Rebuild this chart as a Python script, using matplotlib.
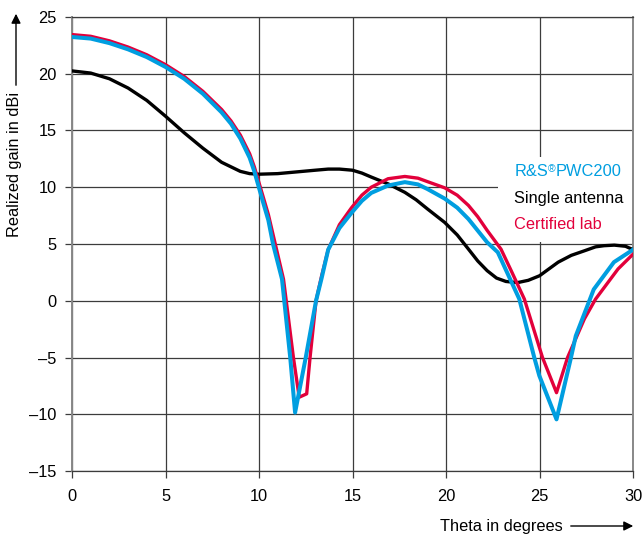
import matplotlib
matplotlib.use("Agg")
import matplotlib.pyplot as plt
from matplotlib.patches import Rectangle

## Data
theta_single = [0, 1, 2, 3, 4, 5, 6, 7, 8, 9, 9.5, 10, 11, 12, 13, 13.7, 14.3, 15, 15.5, 16, 16.9,
                17.8, 18.4, 19, 19.93, 20.6, 21.2, 21.7, 22.2, 22.7, 23.2, 23.83, 24.4, 25, 25.5,
                26, 26.7, 27.4, 28, 28.45, 29, 29.6, 30]
gain_single = [20.25, 20.06, 19.56, 18.74, 17.65, 16.26, 14.8, 13.44, 12.2, 11.4, 11.2, 11.15, 11.2,
               11.35, 11.5, 11.6, 11.6, 11.5, 11.25, 10.9, 10.3, 9.55, 8.9, 8.1, 6.9, 5.8, 4.55,
               3.5, 2.65, 2.0, 1.7, 1.6, 1.8, 2.2, 2.8, 3.4, 4.0, 4.4, 4.75, 4.85, 4.9, 4.8, 4.5]

theta_lab = [0, 1, 2, 3, 4, 5, 6, 7, 8, 8.5, 9, 9.5, 9.75, 10, 10.25, 10.5, 10.87, 11.31, 11.84,
             12.15, 12.55, 12.73, 13.05, 13.35, 13.7, 14.3, 14.95, 15.5, 16.0, 16.9, 17.8, 18.5,
             19.0, 19.93, 20.6, 21.2, 21.7, 22.2, 22.94, 23.5, 24.19, 25.16, 25.91, 26.5, 27.4,
             28.0, 29.2, 30]
gain_lab = [23.45, 23.3, 22.9, 22.35, 21.67, 20.8, 19.76, 18.45, 16.85, 15.85, 14.6, 12.95, 11.8,
            10.4, 9.0, 7.6, 5.0, 1.9, -5.0, -8.5, -8.2, -5.0, 0.0, 2.2, 4.5, 6.7, 8.2, 9.3, 10.0,
            10.75, 10.95, 10.8, 10.5, 9.95, 9.3, 8.4, 7.4, 6.2, 4.55, 2.6, 0.15, -5.0, -8.1, -5.0,
            -1.6, 0.15, 2.8, 4.1]

theta_pwc = [0, 1, 2, 3, 4, 5, 6, 7, 8, 8.5, 9, 9.5, 9.75, 10, 10.25, 10.5, 10.75, 11.23, 11.67,
             11.93, 12.5, 13.05, 13.35, 13.7, 14.3, 14.95, 15.5, 16.0, 16.9, 17.8, 18.5, 19.0,
             19.93, 20.6, 21.2, 22.2, 22.77, 23.92, 24.72, 24.99, 25.91, 26.67, 26.94, 27.9,
             28.98, 30]
gain_pwc = [23.24, 23.1, 22.7, 22.15, 21.47, 20.6, 19.56, 18.24, 16.6, 15.6, 14.3, 12.6, 11.4, 9.95,
            8.5, 7.1, 5.0, 1.9, -5.0, -9.85, -5.0, 0.0, 2.0, 4.5, 6.4, 7.75, 8.8, 9.5, 10.15,
            10.45, 10.25, 9.85, 9.0, 8.2, 7.2, 5.15, 4.27, 0.15, -5.0, -6.6, -10.45, -5.1, -3.1,
            1.0, 3.4, 4.5]

x_ticks = [0, 5, 10, 15, 20, 25, 30]
y_ticks = [-15, -10, -5, 0, 5, 10, 15, 20, 25]

BLUE = '#009ee0'
RED = '#e2003b'
GRID = '#3c3c3c'
FS = 11.8

plt.rcParams['font.family'] = ['Liberation Sans', 'DejaVu Sans']
plt.rcParams['axes.unicode_minus'] = False

fig = plt.figure(figsize=(6.42, 5.4), dpi=100)
ax = fig.add_axes([72/642, 1 - 471/540, (633-72)/642, (471-17)/540])

ax.plot(theta_single, gain_single, color='black', lw=2.4, zorder=3, solid_joinstyle='round')
ax.plot(theta_lab, gain_lab, color=RED, lw=2.4, zorder=4, solid_joinstyle='round')
ax.plot(theta_pwc, gain_pwc, color=BLUE, lw=2.9, zorder=5, solid_joinstyle='round')

ax.set_xlim(0, 30)
ax.set_ylim(-15, 25)
ax.set_xticks(x_ticks)
ax.set_yticks(y_ticks)
ax.set_yticklabels([str(v).replace('-', '\u2013') for v in y_ticks])
ax.set_axisbelow(True)
ax.grid(True, color=GRID, lw=0.9)
ax.tick_params(axis='both', length=5, width=0.9, color=GRID, labelsize=FS)
ax.tick_params(axis='y', pad=6)
ax.tick_params(axis='x', pad=8)
for s in ['top', 'bottom']:
    ax.spines[s].set_color(GRID)
    ax.spines[s].set_linewidth(0.9)
for s in ['left', 'right']:
    ax.spines[s].set_color('#888888')
    ax.spines[s].set_linewidth(1.4)

# white legend box covering the grid
ax.add_patch(Rectangle((22.8, 5.2), 7.2, 7.5, facecolor='white', edgecolor='none', zorder=1))
t1 = ax.text(23.65, 11.35, 'R&S', color=BLUE, fontsize=FS, va='center', zorder=6)
t2 = ax.annotate('\u00ae', xy=(1, 1.02), xycoords=t1, color=BLUE, fontsize=7.5,
                 ha='left', va='top', zorder=6)
ax.annotate('PWC200', xy=(1, 0), xycoords=(t2, t1), color=BLUE, fontsize=FS,
            ha='left', va='bottom', zorder=6)
ax.text(23.65, 9.0, 'Single antenna', color='black', fontsize=FS, va='center', zorder=6)
ax.text(23.65, 6.7, 'Certified lab', color=RED, fontsize=FS, va='center', zorder=6)

# axis labels with arrows
fig.text(440/642, 1 - 526/540, 'Theta in degrees', fontsize=FS, ha='left', va='center')
ax.annotate('', xy=(636, 540-526), xytext=(568, 540-526), xycoords='figure pixels',
            textcoords='figure pixels',
            arrowprops=dict(arrowstyle='-|>', color='black', lw=1, mutation_scale=14))
fig.text(15/642, 1 - 164/540, 'Realized gain in dBi', fontsize=FS, rotation=90,
         ha='center', va='center')
ax.annotate('', xy=(16, 540-11), xytext=(16, 540-88), xycoords='figure pixels',
            textcoords='figure pixels',
            arrowprops=dict(arrowstyle='-|>', color='black', lw=1, mutation_scale=14))

fig.savefig('out.png', dpi=100)
